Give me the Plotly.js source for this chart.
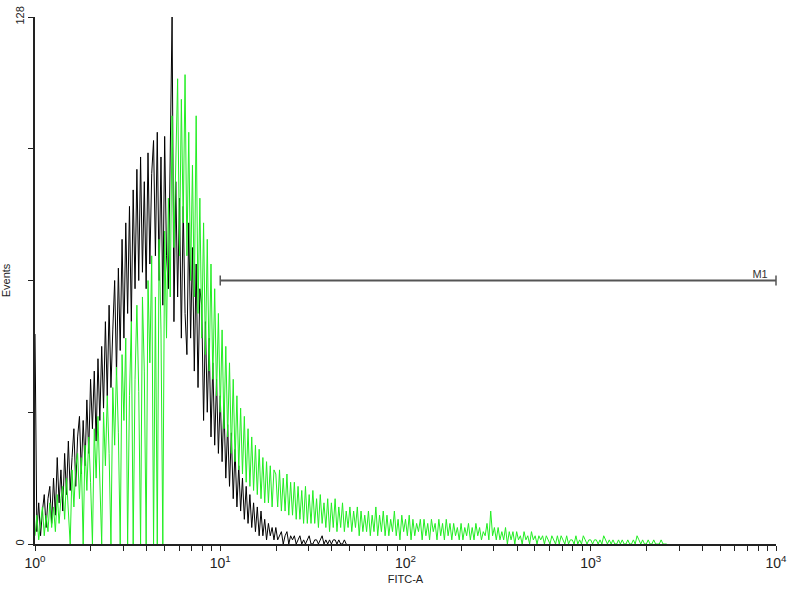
<!DOCTYPE html>
<html>
<head>
<meta charset="utf-8">
<script src="https://cdn.plot.ly/plotly-3.0.1.min.js"></script>
<style>html,body{margin:0;padding:0;background:#fff;}#chart{width:800px;height:600px;}</style>
</head>
<body>
<div id="chart"></div>
<script>
// Histogram channels: 100 channels per decade, channel 0 = 10^0
const binsPerDecade = 100;

// Control (black) counts per channel, channels 0..168
const controlCounts = [
51,3,10,2,8,12,4,11,14,5,
16,7,21,10,18,8,22,12,25,13,
21,28,14,26,31,17,30,19,35,22,
40,28,42,25,45,30,48,33,54,36,
58,38,52,64,41,67,47,74,50,78,
56,82,54,86,62,91,64,94,66,88,
62,95,68,90,98,70,100,64,94,58,
99,70,62,100,128,54,88,60,84,50,
82,56,46,78,50,72,42,68,38,62,
58,30,54,32,50,26,44,24,40,22,
36,20,34,16,29,14,27,11,23,9,
19,8,16,6,14,5,12,4,10,3,
9,2,8,2,6,1,5,2,4,1,
4,1,2,3,0,2,3,0,2,1,
2,0,1,2,0,1,0,1,2,0,
0,1,1,0,1,2,0,1,0,1,
0,1,1,0,1,0,0,1,0
];

// Stained sample (green) counts per channel, channels 0..341
const sampleCounts = [
2,7,1,6,9,2,7,3,10,4,
9,3,12,5,11,14,6,16,9,0,
18,9,19,22,11,21,0,24,13,26,
15,0,28,16,31,18,0,32,19,36,
22,0,38,24,43,27,0,46,30,50,
0,36,54,0,40,58,37,0,60,42,
0,64,44,70,0,60,0,74,52,0,
76,50,84,60,104,72,96,113,70,108,
78,114,70,100,64,92,60,104,56,84,
50,78,46,74,42,68,40,62,36,56,
32,52,28,48,26,44,22,40,20,36,
18,33,17,31,15,28,14,26,13,24,
12,23,11,21,10,20,10,19,9,18,
17,9,18,8,16,8,17,7,15,7,
15,6,14,6,13,5,14,5,12,5,
13,5,11,4,12,5,10,4,11,3,
10,4,11,3,9,4,10,3,8,4,
9,3,8,4,9,2,8,3,7,3,
8,2,7,3,9,2,7,3,8,2,
7,2,6,3,8,2,6,1,7,3,
6,2,7,1,6,2,5,3,6,1,
6,2,5,1,6,3,5,1,6,2,
5,1,6,2,5,1,5,2,4,1,
5,1,4,2,5,1,4,1,5,2,
4,1,3,2,5,1,8,2,4,1,
4,1,3,1,4,0,3,1,3,0,
3,1,2,0,3,1,2,0,3,1,
2,0,2,1,2,0,2,1,0,2,
1,0,2,0,2,1,0,2,0,1,
1,0,2,0,1,0,2,1,0,1,
1,0,1,1,0,1,0,2,1,0,
1,0,1,0,0,1,0,1,0,0,
1,0,0,1,0,2,1,0,1,0,
0,1,0,0,1,0,0,0,1,0,
0,0
];

// Marker M1
const markerName = 'M1';
const markerRange = [10, 10000];
const markerLevel = 64;
const markerLabelX = 8200;

// Axis ticks
const xMajor = [1, 10, 100, 1000, 10000];
const xMajorText = ['10<sup>0</sup>', '10<sup>1</sup>', '10<sup>2</sup>', '10<sup>3</sup>', '10<sup>4</sup>'];
const yMajor = [0, 128];
const yMajorText = ['0', '128'];
const yMinor = [32, 64, 96];

const chanX = arr => arr.map((_, i) => Math.pow(10, i / binsPerDecade));

const xMinor = [];
for (let d = 0; d < xMajor.length - 1; d++) {
  for (let m = 2; m <= 9; m++) xMinor.push(xMajor[d] * m);
}

const traces = [
  {
    x: chanX(controlCounts), y: controlCounts, type: 'scatter', mode: 'lines',
    line: {color: '#000000', width: 1, shape: 'linear'}, hoverinfo: 'skip'
  },
  {
    x: chanX(sampleCounts), y: sampleCounts, type: 'scatter', mode: 'lines',
    line: {color: '#22ee22', width: 1, shape: 'linear'}, hoverinfo: 'skip'
  },
  {
    x: markerRange, y: [markerLevel, markerLevel], type: 'scatter', mode: 'lines+markers',
    line: {color: '#555555', width: 2},
    marker: {symbol: 'line-ns-open', size: 7, color: '#555555', line: {color: '#555555', width: 1.5}},
    hoverinfo: 'skip', cliponaxis: false
  },
  {
    x: [markerLabelX], y: [markerLevel], type: 'scatter', mode: 'text',
    text: [markerName], textposition: 'top center',
    textfont: {family: 'Liberation Sans, Arial, sans-serif', size: 11, color: '#333333'},
    hoverinfo: 'skip', cliponaxis: false
  }
];

const layout = {
  width: 800, height: 600,
  margin: {l: 35, r: 24, t: 17, b: 56},
  paper_bgcolor: '#ffffff', plot_bgcolor: '#ffffff',
  showlegend: false,
  font: {family: 'Liberation Sans, Arial, sans-serif', size: 12, color: '#222222'},
  xaxis: {
    type: 'log', range: [0, 4], showgrid: false, zeroline: false,
    showline: true, linecolor: '#222222', linewidth: 2,
    ticks: 'outside', ticklen: 5, tickwidth: 1, tickcolor: '#222222',
    tickmode: 'array', tickvals: xMajor, ticktext: xMajorText,
    minor: {tickmode: 'array', tickvals: xMinor, ticks: 'outside', ticklen: 5, tickwidth: 1, tickcolor: '#222222', showgrid: false},
    tickfont: {size: 14, color: '#222222'},
    title: {text: 'FITC-A', font: {size: 11, color: '#222222'}, standoff: 6}
  },
  yaxis: {
    range: [0, 128], showgrid: false, zeroline: false,
    showline: true, linecolor: '#222222', linewidth: 2,
    ticks: 'outside', ticklen: 5, tickwidth: 1, tickcolor: '#222222',
    tickmode: 'array', tickvals: yMajor, ticktext: yMajorText, tickangle: -90,
    minor: {tickmode: 'array', tickvals: yMinor, ticks: 'outside', ticklen: 5, tickwidth: 1, tickcolor: '#222222', showgrid: false},
    tickfont: {size: 11, color: '#222222'},
    title: {text: 'Events', font: {size: 11, color: '#222222'}, standoff: 2}
  }
};

Plotly.newPlot('chart', traces, layout, {staticPlot: true, displayModeBar: false});
</script>
</body>
</html>
